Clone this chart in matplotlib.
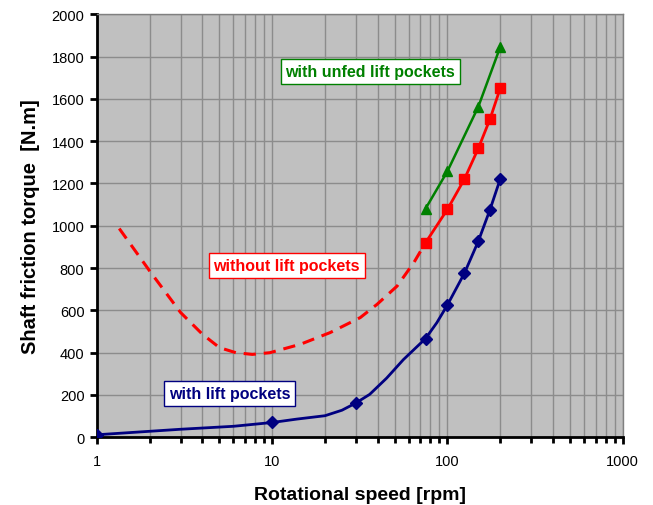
import numpy as np
import matplotlib
matplotlib.use("Agg")
import matplotlib.pyplot as plt
from matplotlib.ticker import LogLocator, FixedLocator, NullFormatter

plt.rcParams['font.family'] = ['Liberation Sans', 'DejaVu Sans']

# measured points (markers)
speed_with = [1, 10, 30, 75, 100, 125, 150, 175, 200]
torque_with = [12, 70, 162, 467, 626, 776, 927, 1077, 1221]
# smooth line
speed_with_line = [1, 3, 6, 10, 13.8, 20, 25, 30, 36, 45, 56, 75, 87, 100,
                   125, 150, 175, 200]
torque_with_line = [12, 38, 52, 70, 86, 102, 128, 162, 203, 280, 367, 467, 542, 626,
                    776, 927, 1077, 1221]

speed_without = [75, 100, 125, 150, 175, 200]
torque_without = [920, 1078, 1221, 1366, 1505, 1650]
# dashed extrapolation
speed_without_dash = [1.34, 2, 3, 4, 5, 6.2, 7.7, 9.7, 14.5, 21.4, 31.8, 39.7, 51.6, 64.3, 75]
torque_without_dash = [987, 786, 590, 487, 424, 400, 392, 400, 440, 495, 566, 629, 715, 826, 920]

speed_unfed = [75, 100, 150, 200]
torque_unfed = [1081, 1258, 1563, 1845]

navy = "#000080"
red = "#FF0000"
green = "#008000"

fig = plt.figure(figsize=(6.53, 5.06), dpi=100)
ax = fig.add_axes([0.1485, 0.1338, 0.8051, 0.836])
ax.set_facecolor("#C0C0C0")

ax.plot(speed_without_dash, torque_without_dash, color=red, lw=2.2, ls=(0, (4, 2.6)), zorder=3)
ax.plot(speed_with_line, torque_with_line, color=navy, lw=2, zorder=3)
ax.plot(speed_with, torque_with, color=navy, ls="none", marker="D", ms=6, zorder=4)
ax.plot(speed_without, torque_without, color=red, lw=2, marker="s", ms=6.5, zorder=4)
ax.plot(speed_unfed, torque_unfed, color=green, lw=1.8, marker="^", ms=6.5, zorder=4)

ax.set_xscale("log")
ax.set_xlim(1, 1000)
ax.set_ylim(0, 2000)
ax.xaxis.set_major_locator(FixedLocator([1, 10, 100, 1000]))
ax.set_xticklabels(["1", "10", "100", "1000"])
ax.xaxis.set_minor_locator(LogLocator(base=10, subs=np.arange(2, 10)))
ax.xaxis.set_minor_formatter(NullFormatter())
ax.set_yticks(range(0, 2001, 200))

ax.grid(True, which="both", axis="x", color="#8C8C8C", lw=1)
ax.grid(True, which="major", axis="y", color="#8C8C8C", lw=1)
ax.set_axisbelow(True)

for s in ["top", "right"]:
    ax.spines[s].set_color("#808080")
    ax.spines[s].set_linewidth(1)
for s in ["left", "bottom"]:
    ax.spines[s].set_color("black")
    ax.spines[s].set_linewidth(2)

ax.tick_params(which="major", direction="out", length=5, width=2, labelsize=10.5, pad=4)
ax.tick_params(which="minor", direction="out", length=4, width=2)
ax.tick_params(axis="x", which="major", pad=7)

ax.set_xlabel("Rotational speed [rpm]", fontsize=14, fontweight="bold", labelpad=13)
ax.set_ylabel("Shaft friction torque  [N.m]", fontsize=14.5, fontweight="bold", labelpad=8)

ax.text(36.3, 1730, "with unfed lift pockets", color=green, fontsize=11.5, fontweight="bold",
        ha="center", va="center", zorder=5,
        bbox=dict(boxstyle="square,pad=0.3", fc="white", ec=green, lw=1))
ax.text(12.1, 813, "without lift pockets", color=red, fontsize=11.5, fontweight="bold",
        ha="center", va="center", zorder=5,
        bbox=dict(boxstyle="square,pad=0.3", fc="white", ec=red, lw=1))
ax.text(5.72, 208, "with lift pockets", color=navy, fontsize=11.5, fontweight="bold",
        ha="center", va="center", zorder=5,
        bbox=dict(boxstyle="square,pad=0.3", fc="white", ec=navy, lw=1))

fig.savefig("out.png", dpi=100)
